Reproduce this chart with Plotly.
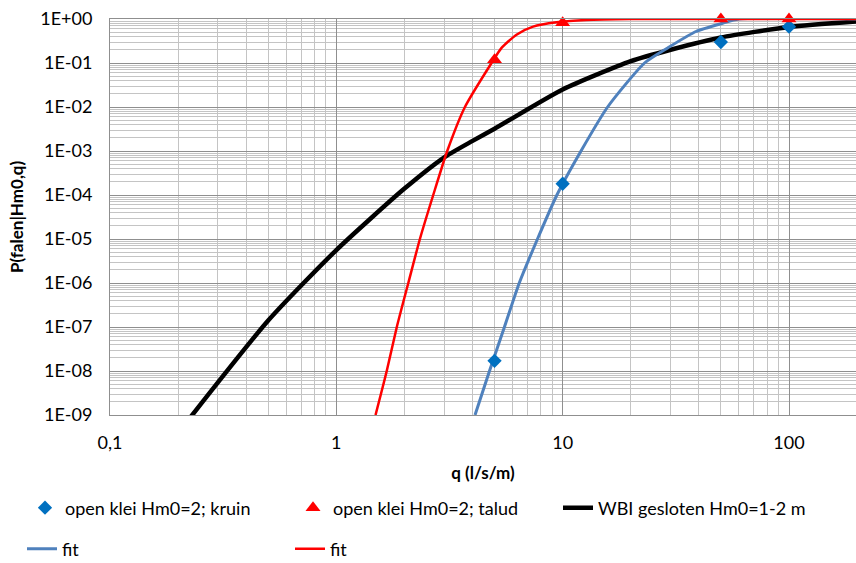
import plotly.graph_objects as go

# ---------------- data ----------------
kruin_q = [5, 10, 50, 100]
kruin_p = [1.7e-8, 1.8e-4, 0.30, 0.67]

talud_q = [5, 10, 50, 100, 200]
talud_p = [0.118, 0.82, 1.0, 1.0, 1.0]

wbi_q = [0.2, 0.5, 1, 2, 3, 4, 5, 10, 20, 30, 50, 100, 200]
wbi_p = [3.9e-10, 1.4e-7, 5.6e-6, 1.4e-4, 7.2e-4, 1.7e-3, 3.2e-3, 0.025, 0.11, 0.2, 0.38, 0.66, 0.88]

fit_blue_q = [4.1, 4.75, 5.53, 6.43, 7.74, 9.43, 12.05, 15.8, 23.0, 29.1, 38.8, 50.9, 60, 200]
fit_blue_p = [1e-9, 1e-8, 1e-7, 1e-6, 1e-5, 1e-4, 1e-3, 1e-2, 0.1, 0.22, 0.52, 0.80, 1.0, 1.0]

fit_red_q = [1.49, 1.67, 1.85, 2.08, 2.34, 2.68, 3.09, 3.70, 4.85, 5.37, 6.25, 7.4, 9.4, 12.7, 20, 200]
fit_red_p = [1e-9, 1e-8, 1e-7, 1e-6, 1e-5, 1e-4, 1e-3, 1e-2, 0.1, 0.22, 0.44, 0.67, 0.84, 0.95, 1.0, 1.0]

x_tickvals = [0.1, 1, 10, 100]
x_ticktext = ["0,1", "1", "10", "100"]
y_tickvals = [1, 1e-1, 1e-2, 1e-3, 1e-4, 1e-5, 1e-6, 1e-7, 1e-8, 1e-9]
y_ticktext = ["1E+00", "1E-01", "1E-02", "1E-03", "1E-04",
              "1E-05", "1E-06", "1E-07", "1E-08", "1E-09"]

labels = {
    "kruin": "open klei Hm0=2; kruin",
    "talud": "open klei Hm0=2; talud",
    "wbi": "WBI gesloten Hm0=1-2 m",
    "fit": "fit",
}

# ---------------- figure ----------------
FONT = "Lato, 'Liberation Sans', sans-serif"
W, H = 856, 563
ML, MR, MT, MB = 110, 0, 19, 148
PW, PH = W - ML - MR, H - MT - MB

def px_x(px):
    return (px - ML) / PW

def px_y(py):
    return (H - MB - py) / PH

fig = go.Figure()

fig.add_trace(go.Scatter(x=wbi_q, y=wbi_p, mode="lines", name=labels["wbi"],
                         line=dict(color="#000000", width=4.5, shape="spline", smoothing=0.6),
                         legend="legend3"))
fig.add_trace(go.Scatter(x=fit_blue_q, y=fit_blue_p, mode="lines", name=labels["fit"],
                         line=dict(color="#4F81BD", width=3, shape="spline", smoothing=0.6),
                         legend="legend4"))
fig.add_trace(go.Scatter(x=fit_red_q, y=fit_red_p, mode="lines", name=labels["fit"],
                         line=dict(color="#FF0000", width=2.5, shape="spline", smoothing=0.6),
                         legend="legend5"))
fig.add_trace(go.Scatter(x=kruin_q, y=kruin_p, mode="markers", name=labels["kruin"],
                         marker=dict(symbol="diamond", size=11, color="#0070C0"),
                         cliponaxis=False, legend="legend"))
fig.add_trace(go.Scatter(x=talud_q, y=talud_p, mode="markers", name=labels["talud"],
                         marker=dict(symbol="triangle-up", size=13, color="#FF0000"),
                         cliponaxis=False, legend="legend2"))

major_grid = "#8f8f8f"
minor_grid = "#c4c4c4"
minor_x = [m * 10 ** k for k in range(-1, 3) for m in range(2, 10)]
minor_y = [m * 10 ** k for k in range(-9, 0) for m in range(2, 10)]

fig.update_xaxes(
    type="log", range=[-1, 2.296],
    tickmode="array", tickvals=x_tickvals, ticktext=x_ticktext,
    showgrid=True, gridcolor=major_grid, gridwidth=1,
    minor=dict(tickmode="array", tickvals=minor_x, showgrid=True,
               gridcolor=minor_grid, gridwidth=1, ticks=""),
    showline=True, linecolor=major_grid, linewidth=1, mirror=True,
    ticks="", ticklabelstandoff=11,
    tickfont=dict(family=FONT, size=18, color="#000000"),
    title=dict(text="q (l/s/m)", font=dict(family=FONT, size=17, color="#000000", weight="bold"),
               standoff=15),
    zeroline=False, automargin=False,
)
fig.update_yaxes(
    type="log", range=[-9, 0],
    tickmode="array", tickvals=y_tickvals, ticktext=y_ticktext,
    showgrid=True, gridcolor=major_grid, gridwidth=1,
    minor=dict(tickmode="array", tickvals=minor_y, showgrid=True,
               gridcolor=minor_grid, gridwidth=1, ticks=""),
    showline=True, linecolor=major_grid, linewidth=1, mirror=True,
    ticks="", ticklabelstandoff=13,
    tickfont=dict(family=FONT, size=18, color="#000000"),
    title=dict(text="P(falen|Hm0,q)", font=dict(family=FONT, size=17, color="#000000", weight="bold"),
               standoff=12),
    zeroline=False, automargin=False,
)

leg_common = dict(font=dict(family=FONT, size=18, color="#000000"),
                  bgcolor="rgba(0,0,0,0)", borderwidth=0,
                  xanchor="left", yanchor="middle", orientation="h")
row1, row2 = px_y(508), px_y(549)
fig.update_layout(
    width=W, height=H,
    margin=dict(l=ML, r=MR, t=MT, b=MB, autoexpand=False),
    paper_bgcolor="#ffffff", plot_bgcolor="#ffffff",
    font=dict(family=FONT, size=18, color="#000000"),
    showlegend=True,
    legend=dict(x=px_x(25), y=row1, **leg_common),
    legend2=dict(x=px_x(293), y=row1, **leg_common),
    legend3=dict(x=px_x(558), y=row1, **leg_common),
    legend4=dict(x=px_x(22), y=row2, **leg_common),
    legend5=dict(x=px_x(290), y=row2, **leg_common),
)

fig.write_html("out.html", config={"displayModeBar": False},
               post_script="document.body.style.margin='0';document.body.style.overflow='hidden';")
